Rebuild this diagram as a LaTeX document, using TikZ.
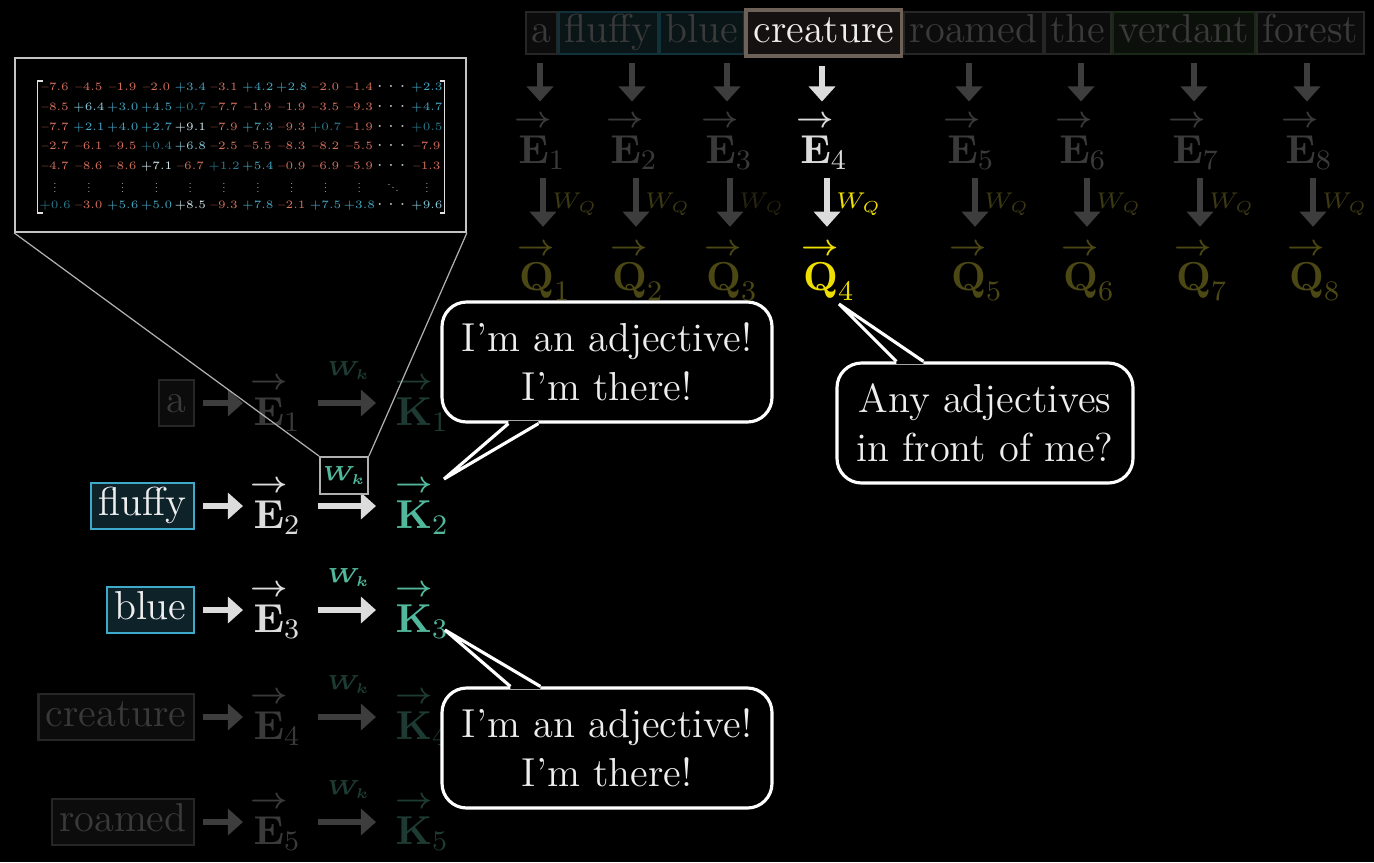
\RequirePackage{fix-cm}
\documentclass[tikz,border=0pt]{standalone}
\usepackage{amsmath,amssymb}
\usepackage{xcolor}
\usepackage{tikz}
\usetikzlibrary{arrows.meta,positioning,calc,matrix}
\definecolor{atwhite}{HTML}{EEEEEE}
\definecolor{atdim}{HTML}{3A3A3A}
\definecolor{atlite}{HTML}{DCDCDC}
\definecolor{atarrowdim}{HTML}{3D3D3D}
\definecolor{atboxfill}{HTML}{0C0C0C}
\definecolor{atboxline}{HTML}{262626}
\definecolor{atfocusfill}{HTML}{151110}
\definecolor{atfocusline}{HTML}{6E6158}
\definecolor{attealfill}{HTML}{0A1518}
\definecolor{attealline}{HTML}{11323A}
\definecolor{atgreenfill}{HTML}{0C100B}
\definecolor{atgreenline}{HTML}{1A2A17}
\definecolor{atcyan}{HTML}{3FA9C9}
\definecolor{atcyanfill}{HTML}{0E222A}
\definecolor{atteal}{HTML}{52B89C}
\definecolor{attealdim}{HTML}{1D3B33}
\definecolor{atolive}{HTML}{4C4814}
\definecolor{atolivelab}{HTML}{3C3913}
\definecolor{atolivedark}{HTML}{262410}
\definecolor{atyellow}{HTML}{EEDF00}
\definecolor{atframeline}{HTML}{C4C4C4}
\definecolor{atzoomline}{HTML}{B0B0B0}
\definecolor{atbracketline}{HTML}{E0E0E0}
\definecolor{matred}{HTML}{D8705E}
\definecolor{matblue}{HTML}{46A7C3}
\definecolor{matlow}{HTML}{2B7D8F}
\definecolor{matpale}{HTML}{8DCFE0}
\definecolor{matwhite}{HTML}{D6ECF2}
\definecolor{matdots}{HTML}{D0D0D0}
\newcommand{\atfont}{\fontsize{11.5}{13.9}\selectfont}
\newcommand{\atsmall}{\fontsize{6.5}{7.5}\selectfont}
\newcommand{\atwkfont}{\fontsize{5.8}{7}\selectfont}
\newcommand{\matfont}{\fontsize{3.2}{3.8}\selectfont}
\newcommand{\cellr}[1]{\textcolor{matred}{#1}}
\newcommand{\cellb}[1]{\textcolor{matblue}{#1}}
\newcommand{\celld}[1]{\textcolor{matlow}{#1}}
\newcommand{\cellp}[1]{\textcolor{matpale}{#1}}
\newcommand{\cellw}[1]{\textcolor{matwhite}{#1}}
\newcommand{\cello}{{\fontsize{4.6}{5}\selectfont\textcolor{matdots}{$\cdots$}}}
\newcommand{\cellv}{\raisebox{-0.9pt}{\scalebox{0.28}{\normalsize\textcolor{matdots}{$\vdots$}}}}
\newcommand{\celldd}{\raisebox{-0.9pt}{\scalebox{0.3}{\normalsize\textcolor{matdots}{$\ddots$}}}}
\newcommand{\atarrowed}[1]{{\overset{\makebox[0pt]{\scalebox{1.15}[1.05]{$\scriptstyle\boldsymbol{\rightarrow}$}}}{\mathbf{#1}}}}
\newcommand{\vE}[1]{$\atarrowed{E}_{#1}$}
\newcommand{\vK}[1]{$\atarrowed{K}_{#1}$}
\newcommand{\vQ}[1]{$\atarrowed{Q}_{#1}$}
\tikzset{
atword/.style={rectangle,draw,line width=0.6pt,inner xsep=2.1pt,inner ysep=0pt,minimum height=0.46cm,text height=8pt,text depth=2.6pt},
atwordhi/.style={atword,fill=atcyanfill,draw=atcyan,text=atwhite},
atworddim/.style={atword,fill=atboxfill,draw=atboxline,text=atdim},
attop/.style={atword,inner xsep=1.6pt,minimum height=0.42cm,line width=0.5pt},
attopdim/.style={attop,fill=atboxfill,draw=atboxline,text=atdim},
attopfocus/.style={attop,fill=atfocusfill,draw=atfocusline,text=atwhite,line width=1pt,minimum height=0.46cm,inner xsep=2.1pt},
atvec/.style={inner sep=0pt},
atarr/.style={-{Triangle[length=4.3pt,width=7.4pt]},line width=1.6pt,draw=atlite},
atarrdim/.style={atarr,draw=atarrowdim},
atdown/.style={shorten <=0.08cm,shorten >=0.10cm},
atdownq/.style={shorten <=0.08cm,shorten >=0.12cm},
atright/.style={shorten <=0.08cm,shorten >=0.10cm},
atrightk/.style={shorten <=0.16cm,shorten >=0.19cm},
atwq/.style={right,font=\atsmall,inner sep=1.8pt},
atwk/.style={above=5.8pt,font=\atwkfont,inner sep=0pt},
atwkbox/.style={rectangle,draw=atzoomline,line width=0.5pt,font=\atwkfont,text=atteal,minimum width=0.48cm,minimum height=0.37cm,inner sep=0pt},
atframe/.style={rectangle,draw=atframeline,line width=0.5pt,inner sep=0pt},
atzoom/.style={draw=atzoomline,line width=0.35pt},
atcell/.style={font=\matfont,inner sep=0pt,minimum width=0.338cm,minimum height=0.197cm,text height=2.4pt,text depth=0.8pt},
atbracket/.style={draw=atbracketline,line width=0.55pt},
atbubble/.style={rectangle,rounded corners=7pt,draw=white,line width=0.9pt,fill=black,text=atwhite,align=center,inner sep=0pt,minimum width=3.30cm,minimum height=1.20cm},
attail/.style={draw=white,line width=0.9pt}
}

\begin{document}
\begin{tikzpicture}[
x=1cm,
y=1cm,
every node/.style={font=\atfont}
]
\useasboundingbox (0,0) rectangle (13.74,-8.62);
\fill[black] (0,0) rectangle (13.74,-8.62);

% sentence on top
\node[attopdim,anchor=west] (ta) at (5.25,-0.33) {a};
\node[attopdim,fill=attealfill,draw=attealline,right=0pt of ta] (tfluffy) {fluffy};
\node[attopdim,fill=attealfill,draw=attealline,right=0pt of tfluffy] (tblue) {blue};
\node[attopfocus,right=0pt of tblue] (tcreature) {creature};
\node[attopdim,right=0pt of tcreature] (troamed) {roamed};
\node[attopdim,right=0pt of troamed] (tthe) {the};
\node[attopdim,fill=atgreenfill,draw=atgreenline,right=0pt of tthe] (tverdant) {verdant};
\node[attopdim,right=0pt of tverdant] (tforest) {forest};

\node[atvec,text=atdim] (e1) at (5.42,-1.41) {\vE{1}};
\node[atvec,text=atdim] (e2) at (6.34,-1.41) {\vE{2}};
\node[atvec,text=atdim] (e3) at (7.29,-1.41) {\vE{3}};
\node[atvec,text=atlite] (e4) at (8.24,-1.41) {\vE{4}};
\node[atvec,text=atdim] (e5) at (9.71,-1.41) {\vE{5}};
\node[atvec,text=atdim] (e6) at (10.83,-1.41) {\vE{6}};
\node[atvec,text=atdim] (e7) at (11.96,-1.41) {\vE{7}};
\node[atvec,text=atdim] (e8) at (13.09,-1.41) {\vE{8}};

\node[atvec,text=atolive] (q1) at (5.45,-2.70) {\vQ{1}};
\node[atvec,text=atolive] (q2) at (6.38,-2.70) {\vQ{2}};
\node[atvec,text=atolive] (q3) at (7.32,-2.70) {\vQ{3}};
\node[atvec,text=atyellow] (q4) at (8.29,-2.70) {\vQ{4}};
\node[atvec,text=atolive] (q5) at (9.77,-2.70) {\vQ{5}};
\node[atvec,text=atolive] (q6) at (10.89,-2.70) {\vQ{6}};
\node[atvec,text=atolive] (q7) at (12.02,-2.70) {\vQ{7}};
\node[atvec,text=atolive] (q8) at (13.15,-2.70) {\vQ{8}};

\draw[atarrdim,atdown] ([xshift=-0.02cm]e1 |- ta.south) -- ([xshift=-0.02cm]e1.north);
\draw[atarrdim,atdown] ([xshift=-0.02cm]e2 |- tfluffy.south) -- ([xshift=-0.02cm]e2.north);
\draw[atarrdim,atdown] ([xshift=-0.02cm]e3 |- tblue.south) -- ([xshift=-0.02cm]e3.north);
\draw[atarr,atdown] ([xshift=-0.02cm]e4 |- tcreature.south) -- ([xshift=-0.02cm]e4.north);
\draw[atarrdim,atdown] ([xshift=-0.02cm]e5 |- troamed.south) -- ([xshift=-0.02cm]e5.north);
\draw[atarrdim,atdown] ([xshift=-0.02cm]e6 |- tthe.south) -- ([xshift=-0.02cm]e6.north);
\draw[atarrdim,atdown] ([xshift=-0.02cm]e7 |- tverdant.south) -- ([xshift=-0.02cm]e7.north);
\draw[atarrdim,atdown] ([xshift=-0.02cm]e8 |- tforest.south) -- ([xshift=-0.02cm]e8.north);

\draw[atarrdim,atdownq] ([xshift=-0.02cm]q1 |- e1.south) -- node[atwq,text=atolivelab] {$W_Q$} ([xshift=-0.02cm]q1.north);
\draw[atarrdim,atdownq] ([xshift=-0.02cm]q2 |- e2.south) -- node[atwq,text=atolivelab] {$W_Q$} ([xshift=-0.02cm]q2.north);
\draw[atarrdim,atdownq] ([xshift=-0.02cm]q3 |- e3.south) -- node[atwq,text=atolivedark] {$W_Q$} ([xshift=-0.02cm]q3.north);
\draw[atarr,atdownq] ([xshift=-0.02cm]q4 |- e4.south) -- node[atwq,text=atyellow] {$W_Q$} ([xshift=-0.02cm]q4.north);
\draw[atarrdim,atdownq] ([xshift=-0.02cm]q5 |- e5.south) -- node[atwq,text=atolivelab] {$W_Q$} ([xshift=-0.02cm]q5.north);
\draw[atarrdim,atdownq] ([xshift=-0.02cm]q6 |- e6.south) -- node[atwq,text=atolivelab] {$W_Q$} ([xshift=-0.02cm]q6.north);
\draw[atarrdim,atdownq] ([xshift=-0.02cm]q7 |- e7.south) -- node[atwq,text=atolivelab] {$W_Q$} ([xshift=-0.02cm]q7.north);
\draw[atarrdim,atdownq] ([xshift=-0.02cm]q8 |- e8.south) -- node[atwq,text=atolivelab] {$W_Q$} ([xshift=-0.02cm]q8.north);

% keys, one row per word
\node[atworddim,anchor=east] (wa) at (1.95,-4.03) {a};
\node[atvec,text=atdim,anchor=west] (ea) at (2.53,-4.03) {\vE{1}};
\node[atvec,text=attealdim,anchor=west] (ka) at (3.95,-4.03) {\vK{1}};
\draw[atarrdim,atright] (wa) -- (ea);
\draw[atarrdim,atrightk] (ea) -- node[atwk,text=attealdim] {$\boldsymbol{W_k}$} (ka);

\node[atwordhi,anchor=east] (wfluffy) at (1.95,-5.06) {fluffy};
\node[atvec,text=atlite,anchor=west] (efluffy) at (2.53,-5.06) {\vE{2}};
\node[atvec,text=atteal,anchor=west] (kfluffy) at (3.95,-5.06) {\vK{2}};
\draw[atarr,atright] (wfluffy) -- (efluffy);
\draw[atarr,atrightk] (efluffy) -- (kfluffy);
\node[atwkbox] (wkzoom) at (3.44,-4.755) {$\boldsymbol{W_k}$};

\node[atwordhi,anchor=east] (wblue) at (1.95,-6.10) {blue};
\node[atvec,text=atlite,anchor=west] (eblue) at (2.53,-6.10) {\vE{3}};
\node[atvec,text=atteal,anchor=west] (kblue) at (3.95,-6.10) {\vK{3}};
\draw[atarr,atright] (wblue) -- (eblue);
\draw[atarr,atrightk] (eblue) -- node[atwk,text=atteal] {$\boldsymbol{W_k}$} (kblue);

\node[atworddim,anchor=east] (wcreature) at (1.95,-7.17) {creature};
\node[atvec,text=atdim,anchor=west] (ecreature) at (2.53,-7.17) {\vE{4}};
\node[atvec,text=attealdim,anchor=west] (kcreature) at (3.95,-7.17) {\vK{4}};
\draw[atarrdim,atright] (wcreature) -- (ecreature);
\draw[atarrdim,atrightk] (ecreature) -- node[atwk,text=attealdim] {$\boldsymbol{W_k}$} (kcreature);

\node[atworddim,anchor=east] (wroamed) at (1.95,-8.22) {roamed};
\node[atvec,text=atdim,anchor=west] (eroamed) at (2.53,-8.22) {\vE{5}};
\node[atvec,text=attealdim,anchor=west] (kroamed) at (3.95,-8.22) {\vK{5}};
\draw[atarrdim,atright] (wroamed) -- (eroamed);
\draw[atarrdim,atrightk] (eroamed) -- node[atwk,text=attealdim] {$\boldsymbol{W_k}$} (kroamed);

% zoomed key matrix
\node[atframe,minimum width=4.51cm,minimum height=1.74cm] (zoomframe) at (2.405,-1.45) {};
\matrix[matrix of nodes,nodes={atcell},inner sep=0pt,column sep={0.338cm,between origins},row sep={0.197cm,between origins}] (mat) at (2.41,-1.47) {
\cellr{--7.6} & \cellr{--4.5} & \cellr{--1.9} & \cellr{--2.0} & \cellb{+3.4} & \cellr{--3.1} & \cellb{+4.2} & \cellb{+2.8} & \cellr{--2.0} & \cellr{--1.4} & \cello & \cellb{+2.3} \\
\cellr{--8.5} & \cellp{+6.4} & \cellb{+3.0} & \cellb{+4.5} & \celld{+0.7} & \cellr{--7.7} & \cellr{--1.9} & \cellr{--1.9} & \cellr{--3.5} & \cellr{--9.3} & \cello & \cellb{+4.7} \\
\cellr{--7.7} & \cellb{+2.1} & \cellb{+4.0} & \cellb{+2.7} & \cellw{+9.1} & \cellr{--7.9} & \cellb{+7.3} & \cellr{--9.3} & \celld{+0.7} & \cellr{--1.9} & \cello & \celld{+0.5} \\
\cellr{--2.7} & \cellr{--6.1} & \cellr{--9.5} & \celld{+0.4} & \cellp{+6.8} & \cellr{--2.5} & \cellr{--5.5} & \cellr{--8.3} & \cellr{--8.2} & \cellr{--5.5} & \cello & \cellr{--7.9} \\
\cellr{--4.7} & \cellr{--8.6} & \cellr{--8.6} & \cellw{+7.1} & \cellr{--6.7} & \celld{+1.2} & \cellb{+5.4} & \cellr{--0.9} & \cellr{--6.9} & \cellr{--5.9} & \cello & \cellr{--1.3} \\
\cellv & \cellv & \cellv & \cellv & \cellv & \cellv & \cellv & \cellv & \cellv & \cellv & \celldd & \cellv \\
\celld{+0.6} & \cellr{--3.0} & \cellb{+5.6} & \cellb{+5.0} & \cellw{+8.5} & \cellr{--9.3} & \cellb{+7.8} & \cellr{--2.1} & \cellb{+7.5} & \cellb{+3.8} & \cello & \cellp{+9.6} \\
};
\draw[atbracket] ($(mat-1-1.north west)+(0.05,-0.04)$) -- ($(mat-1-1.north west)+(0,-0.04)$) -- ($(mat-7-1.south west)+(0,0.04)$) -- ($(mat-7-1.south west)+(0.05,0.04)$);
\draw[atbracket] ($(mat-1-12.north east)+(-0.05,-0.04)$) -- ($(mat-1-12.north east)+(0,-0.04)$) -- ($(mat-7-12.south east)+(0,0.04)$) -- ($(mat-7-12.south east)+(-0.05,0.04)$);
\draw[atzoom] (zoomframe.south west) -- (wkzoom.north west);
\draw[atzoom] (zoomframe.south east) -- (wkzoom.north east);

% speech bubbles
\node[atbubble] (adjfluffy) at (6.07,-3.62) {I'm an adjective!\\I'm there!};
\coordinate (tipfluffy) at (4.44,-4.79);
\fill[black] ($(adjfluffy.south west)+(0.68,0.025)$) -- ($(adjfluffy.south west)+(0.68,0)$) -- (tipfluffy) -- ($(adjfluffy.south west)+(0.98,0)$) -- ($(adjfluffy.south west)+(0.98,0.025)$) -- cycle;
\draw[attail] ($(adjfluffy.south west)+(0.68,0)$) -- (tipfluffy) -- ($(adjfluffy.south west)+(0.98,0)$);

\node[atbubble,minimum width=2.96cm] (ask) at (9.85,-4.23) {Any adjectives\\in front of me?};
\coordinate (tipask) at (8.39,-3.04);
\fill[black] ($(ask.north west)+(0.61,-0.025)$) -- ($(ask.north west)+(0.61,0)$) -- (tipask) -- ($(ask.north west)+(0.88,0)$) -- ($(ask.north west)+(0.88,-0.025)$) -- cycle;
\draw[attail] ($(ask.north west)+(0.61,0)$) -- (tipask) -- ($(ask.north west)+(0.88,0)$);

\node[atbubble] (adjblue) at (6.07,-7.48) {I'm an adjective!\\I'm there!};
\coordinate (tipblue) at (4.45,-6.30);
\fill[black] ($(adjblue.north west)+(0.70,-0.025)$) -- ($(adjblue.north west)+(0.70,0)$) -- (tipblue) -- ($(adjblue.north west)+(1.00,0)$) -- ($(adjblue.north west)+(1.00,-0.025)$) -- cycle;
\draw[attail] ($(adjblue.north west)+(0.70,0)$) -- (tipblue) -- ($(adjblue.north west)+(1.00,0)$);
\end{tikzpicture}
\end{document}
